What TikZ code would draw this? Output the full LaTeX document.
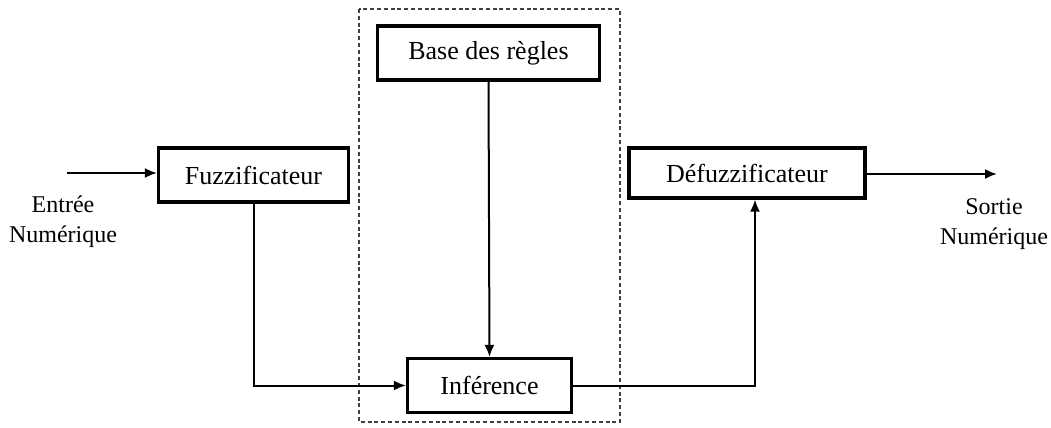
\documentclass[tikz,border=0pt]{standalone}
\usepackage{fontspec}
\setmainfont{Liberation Serif}
\usetikzlibrary{positioning,arrows.meta}
\tikzset{
bloc/.style={
  draw=black,
  line width=1.6pt,
  minimum height=27pt,
  align=center,
  font=\fontsize{13}{15}\selectfont
  },
fleche/.style={-{Latex[length=6pt,width=5pt]}, line width=1pt},
etiq/.style={align=center, font=\fontsize{12}{15}\selectfont},
cadre/.style={draw=black!75, line width=0.9pt, dash pattern=on 2pt off 1.4pt}
}

\begin{document}
\begin{tikzpicture}[x=0.5pt,y=-0.5pt]
\useasboundingbox (0,0) rectangle (1051,428);

% blocs
\node[bloc,minimum width=95pt] (fuzz) at (253.5,175) {Fuzzificateur};
\node[bloc,minimum width=111pt] (regles) at (488.5,53) {Base des r\`egles};
\node[bloc,minimum width=82pt] (inf) at (489.5,385.5) {Inf\'erence};
\node[bloc,minimum width=118pt,minimum height=25pt] (defuzz) at (747,173) {D\'efuzzificateur};

% cadre pointille
\draw[cadre] (359,9) rectangle (620,422);

% entree / sortie
\coordinate (in) at (67,173);
\coordinate (out) at (997,174);
\coordinate (retour) at ([xshift=4pt]defuzz.south);
\node[etiq] (entree) at (63,222) {Entr\'ee\\Num\'erique};
\node[etiq] (sortie) at (994,224) {Sortie\\Num\'erique};

% liaisons
\draw[fleche] (in) -- (fuzz.west|-in);
\draw[fleche] (fuzz.south) |- (inf.west);
\draw[fleche] (regles.south) -- (inf.north);
\draw[fleche] (inf.east) -| (retour);
\draw[fleche] (defuzz.east|-out) -- (out);

\end{tikzpicture}
\end{document}
